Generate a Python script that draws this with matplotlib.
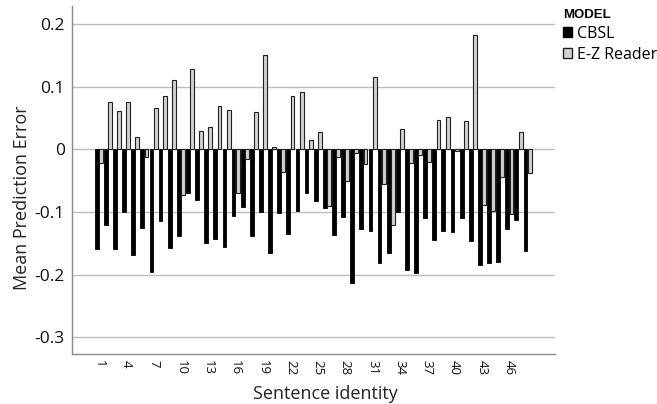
import matplotlib.pyplot as plt
import numpy as np
from matplotlib.patches import Patch

#########################################
# Data
#########################################

sentences = np.arange(1, 49)

cbsl = [-0.160, -0.121, -0.160, -0.100, -0.169, -0.125, -0.196, -0.114, -0.158, -0.139,
        -0.070, -0.081, -0.150, -0.144, -0.156, -0.107, -0.092, -0.139, -0.100, -0.165,
        -0.101, -0.136, -0.098, -0.069, -0.083, -0.093, -0.137, -0.108, -0.214, -0.128,
        -0.131, -0.182, -0.166, -0.100, -0.193, -0.198, -0.109, -0.145, -0.131, -0.132,
        -0.109, -0.147, -0.185, -0.181, -0.180, -0.128, -0.113, -0.162]

ez_reader = [-0.022, 0.075, 0.062, 0.075, 0.019, -0.012, 0.066, 0.085, 0.111, -0.073,
             0.129, 0.030, 0.035, 0.069, 0.063, -0.069, -0.016, 0.059, 0.151, 0.003,
             -0.037, 0.085, 0.091, 0.015, 0.027, -0.090, -0.013, -0.051, -0.006, -0.023,
             0.115, -0.056, -0.121, 0.032, -0.022, -0.009, -0.020, 0.047, 0.052, -0.002,
             0.045, 0.182, -0.089, -0.098, -0.045, -0.103, 0.027, -0.038]

xtick_values = list(range(1, 47, 3))
ytick_values = [0.2, 0.1, 0.0, -0.1, -0.2, -0.3]
ytick_labels = ["0.2", "0.1", "0", "-0.1", "-0.2", "-0.3"]

#########################################
# Plot
#########################################

plt.rcParams['font.family'] = ['Open Sans', 'DejaVu Sans']

W, H = 657, 404
fig = plt.figure(figsize=(W / 100, H / 100), dpi=100)
# axes box in pixels: left 71.7, right 555, top 6, bottom 354
ax = fig.add_axes([71.7 / W, 1 - 354 / H, (555 - 71.7) / W, (354 - 6) / H])

bar_w = 0.42
off = 0.23
ax.bar(sentences - off, cbsl, width=bar_w, color='black', edgecolor='black', linewidth=0.6, zorder=3)
ax.bar(sentences + off, ez_reader, width=bar_w, color='#d2d2d2', edgecolor='#202020', linewidth=0.8, zorder=3)

ax.set_xlim(-1.97, 51.0)
ax.set_ylim(-0.327, 0.229)

ax.set_yticks(ytick_values)
ax.set_yticklabels(ytick_labels, fontsize=12.5)
ax.set_xticks(xtick_values)
ax.set_xticklabels([str(v) for v in xtick_values], rotation=-90, fontsize=9.5)
ax.tick_params(axis='both', length=0, colors='#111111')
ax.tick_params(axis='y', pad=5)
ax.tick_params(axis='x', pad=4)

ax.yaxis.grid(True, color='#bdbdbd', linewidth=1.0, zorder=0)
ax.set_axisbelow(True)

for side in ['top', 'right']:
    ax.spines[side].set_visible(False)
for side in ['left', 'bottom']:
    ax.spines[side].set_color('#8a8a8a')
    ax.spines[side].set_linewidth(1.0)

ax.set_ylabel('Mean Prediction Error', fontsize=13, color='#222222')
ax.yaxis.set_label_coords(-0.084, 0.45)
ax.set_xlabel('Sentence identity', fontsize=13, color='#222222')
ax.xaxis.set_label_coords(0.524, -0.09)

handles = [Patch(facecolor='black', edgecolor='black', label='CBSL'),
           Patch(facecolor='#d2d2d2', edgecolor='#202020', label='E-Z Reader')]
leg = fig.legend(handles=handles, loc='upper left', bbox_to_anchor=(563 / W, 1 - 9 / H),
                 frameon=False, title='MODEL', alignment='left',
                 handlelength=0.55, handleheight=0.6, handletextpad=0.3,
                 labelspacing=0.3, borderaxespad=0, borderpad=0,
                 prop={'family': 'Open Sans', 'size': 11.5})
leg.get_title().set_fontfamily('Liberation Sans')
leg.get_title().set_fontweight('bold')
leg.get_title().set_fontsize(9.5)

plt.savefig('out.png', dpi=100)
plt.close()
